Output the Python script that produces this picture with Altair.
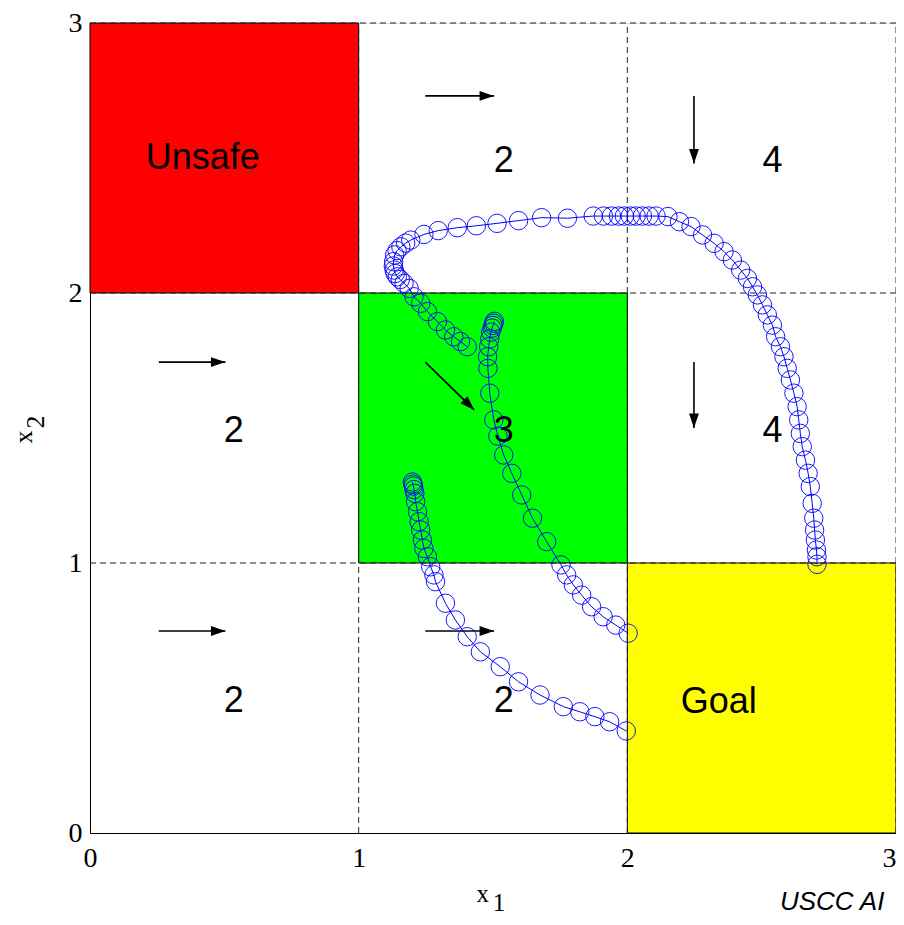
import altair as alt
import pandas as pd

# ---------------- data ----------------
# coloured regions of the state space
region_names = ["Unsafe", "Target", "Goal"]
region_x0 = [0, 1, 2]
region_x1 = [1, 2, 3]
region_y0 = [2, 1, 0]
region_y1 = [3, 2, 1]
region_colors = ["#ff0000", "#00ff00", "#ffff00"]

# cell labels
cell_text = ["Unsafe", "2", "4", "2", "3", "4", "2", "2", "Goal"]
cell_tx = [0.42, 1.54, 2.54, 0.535, 1.54, 2.54, 0.535, 1.54, 2.34]
cell_ty = [2.50, 2.49, 2.49, 1.49, 1.49, 1.49, 0.49, 0.49, 0.485]

# vector-field arrows (tail -> tip)
arrow_x = [1.248, 2.248, 0.256, 1.248, 2.248, 0.256, 1.248]
arrow_y = [2.730, 2.730, 1.744, 1.744, 1.744, 0.748, 0.748]
arrow_x2 = [1.504, 2.248, 0.504, 1.430, 2.248, 0.504, 1.504]
arrow_y2 = [2.730, 2.480, 1.744, 1.567, 1.500, 0.748, 0.748]
arrow_angle = [0, 90, 0, 45, 90, 0, 0]

# dashed partition lines
grid_v = [1, 2, 3]
grid_h = [1, 2, 3]

# trajectories
traj_a_x = [1.200, 1.202, 1.204, 1.206, 1.209, 1.212, 1.219, 1.225, 1.231, 1.237, 1.243,
            1.256, 1.268, 1.280, 1.286, 1.323, 1.360, 1.404, 1.453, 1.527, 1.595, 1.675,
            1.762, 1.823, 1.879, 1.934, 1.996]
traj_a_y = [1.300, 1.292, 1.285, 1.272, 1.258, 1.227, 1.190, 1.153, 1.122, 1.085, 1.054,
            1.023, 0.986, 0.956, 0.931, 0.851, 0.789, 0.727, 0.671, 0.616, 0.560, 0.511,
            0.468, 0.449, 0.431, 0.412, 0.378]

traj_b_x = [1.505, 1.503, 1.500, 1.497, 1.492, 1.488, 1.484, 1.480, 1.481, 1.488, 1.503,
            1.518, 1.540, 1.570, 1.607, 1.647, 1.700, 1.753, 1.774, 1.799, 1.830, 1.867,
            1.910, 1.957, 2.003]
traj_b_y = [1.895, 1.888, 1.880, 1.870, 1.855, 1.830, 1.801, 1.764, 1.721, 1.629, 1.530,
            1.470, 1.400, 1.332, 1.252, 1.166, 1.079, 0.993, 0.956, 0.919, 0.881, 0.838,
            0.801, 0.770, 0.740]

traj_c_x = [1.404, 1.379, 1.354, 1.323, 1.293, 1.256, 1.231, 1.206, 1.188, 1.169, 1.155,
            1.144, 1.136, 1.132, 1.129, 1.130, 1.134, 1.143, 1.157, 1.175, 1.194, 1.243,
            1.296, 1.367, 1.438, 1.515, 1.595, 1.681, 1.777, 1.873, 1.911, 1.941, 1.967,
            1.989, 2.011, 2.033, 2.056, 2.081, 2.107, 2.151, 2.194, 2.237, 2.280, 2.323,
            2.360, 2.391, 2.422, 2.447, 2.466, 2.484, 2.503, 2.521, 2.540, 2.552, 2.570,
            2.583, 2.595, 2.607, 2.620, 2.632, 2.638, 2.644, 2.651, 2.663, 2.673, 2.681,
            2.688, 2.694, 2.697, 2.700, 2.704, 2.706, 2.706]
traj_c_y = [1.801, 1.820, 1.838, 1.863, 1.894, 1.931, 1.962, 1.986, 2.017, 2.036, 2.050,
            2.060, 2.072, 2.085, 2.100, 2.116, 2.141, 2.157, 2.171, 2.185, 2.196, 2.217,
            2.231, 2.242, 2.249, 2.258, 2.268, 2.279, 2.277, 2.285, 2.285, 2.285, 2.285,
            2.285, 2.285, 2.285, 2.285, 2.285, 2.285, 2.283, 2.264, 2.246, 2.215, 2.184,
            2.153, 2.122, 2.085, 2.054, 2.023, 1.993, 1.956, 1.919, 1.881, 1.838, 1.801,
            1.764, 1.721, 1.678, 1.629, 1.579, 1.530, 1.480, 1.431, 1.381, 1.332, 1.283,
            1.221, 1.166, 1.122, 1.085, 1.048, 1.023, 0.995]

# axis tick values
tick_values = [0, 1, 2, 3]

# ---------------- tables ----------------
regions = pd.DataFrame({"name": region_names, "x0": region_x0, "x1": region_x1,
                        "y0": region_y0, "y1": region_y1, "color": region_colors})
cells = pd.DataFrame({"text": cell_text, "x": cell_tx, "y": cell_ty})
arrows = pd.DataFrame({"x": arrow_x, "y": arrow_y, "x2": arrow_x2, "y2": arrow_y2,
                       "angle": arrow_angle})
vlines = pd.DataFrame({"x": grid_v, "y": [0] * len(grid_v), "y2": [3] * len(grid_v)})
hlines = pd.DataFrame({"y": grid_h, "x": [0] * len(grid_h), "x2": [3] * len(grid_h)})

rows = []
for name, xs_, ys_ in (("A", traj_a_x, traj_a_y), ("B", traj_b_x, traj_b_y),
                       ("C", traj_c_x, traj_c_y)):
    for i, (xv, yv) in enumerate(zip(xs_, ys_)):
        rows.append({"traj": name, "order": i, "x": xv, "y": yv})
traj = pd.DataFrame(rows)

xs = alt.Scale(domain=[0, 3], nice=False, zero=False)
ys = alt.Scale(domain=[0, 3], nice=False, zero=False)

x_axis = alt.Axis(values=tick_values, format="d", title=None, grid=False, ticks=False,
                  labelFlush=False, labelPadding=11, labelFontSize=28,
                  labelAlign={"condition": {"test": "datum.value >= 3", "value": "right"},
                              "value": "center"},
                  labelFont="Liberation Serif", labelColor="black", domainColor="black",
                  labelOverlap=False, labelBound=False)
y_axis = alt.Axis(values=tick_values, format="d", title=None, grid=False, ticks=False,
                  labelFlush=False, labelPadding=8, labelFontSize=28,
                  labelFont="Liberation Serif", labelColor="black", domainColor="black",
                  labelOverlap=False, labelBound=False)

fills = alt.Chart(regions).mark_rect(stroke="black", strokeWidth=1).encode(
    x=alt.X("x0:Q", scale=xs, axis=x_axis),
    x2="x1:Q",
    y=alt.Y("y0:Q", scale=ys, axis=y_axis),
    y2="y1:Q",
    color=alt.Color("color:N", scale=None),
)

vgrid = alt.Chart(vlines).mark_rule(color="#222222", strokeWidth=1, strokeDash=[6, 4]).encode(
    x=alt.X("x:Q", scale=xs), y=alt.Y("y:Q", scale=ys), y2="y2:Q")
hgrid = alt.Chart(hlines).mark_rule(color="#222222", strokeWidth=1, strokeDash=[6, 4]).encode(
    y=alt.Y("y:Q", scale=ys), x=alt.X("x:Q", scale=xs), x2="x2:Q")

labels = alt.Chart(cells).mark_text(font="Liberation Sans", fontSize=36, color="black",
                                    align="center", baseline="middle").encode(
    x=alt.X("x:Q", scale=xs), y=alt.Y("y:Q", scale=ys), text="text:N")

shafts = alt.Chart(arrows).mark_rule(color="black", strokeWidth=1.6).encode(
    x=alt.X("x:Q", scale=xs), y=alt.Y("y:Q", scale=ys), x2="x2:Q", y2="y2:Q")
heads = alt.Chart(arrows).mark_point(shape="M0,0L-1,-0.34L-1,0.34Z", filled=True, size=840,
                                     color="black", opacity=1, strokeWidth=0).encode(
    x=alt.X("x2:Q", scale=xs), y=alt.Y("y2:Q", scale=ys), angle=alt.Angle("angle:Q", scale=None))

lines = alt.Chart(traj).mark_line(color="#0000ff", strokeWidth=1).encode(
    x=alt.X("x:Q", scale=xs), y=alt.Y("y:Q", scale=ys), detail="traj:N", order="order:Q")
circles = alt.Chart(traj).mark_point(shape="circle", filled=False, size=340, color="#0000ff",
                                     strokeWidth=1, opacity=0.9).encode(
    x=alt.X("x:Q", scale=xs), y=alt.Y("y:Q", scale=ys))

# axis titles with subscripts, and footer text
titles = pd.DataFrame({
    "text": ["x", "1"],
    "x": [1.462, 1.522],
    "y": [-0.255, -0.290],
})
xtitle = alt.Chart(titles).mark_text(font="Liberation Serif", fontSize=25, color="black",
                                     align="center", baseline="alphabetic").encode(
    x=alt.X("x:Q", scale=xs), y=alt.Y("y:Q", scale=ys), text="text:N")
ytitles = pd.DataFrame({"text": ["x", "2"], "x": [-0.245, -0.200], "y": [1.467, 1.522]})
ytitle = alt.Chart(ytitles).mark_text(font="Liberation Serif", fontSize=26, color="black",
                                      align="center", baseline="middle", angle=270).encode(
    x=alt.X("x:Q", scale=xs), y=alt.Y("y:Q", scale=ys), text="text:N")
footer = alt.Chart(pd.DataFrame({"text": ["USCC AI"], "x": [2.568], "y": [-0.285]})).mark_text(
    font="Liberation Sans", fontSize=26, fontStyle="italic", color="black",
    align="left", baseline="alphabetic").encode(
    x=alt.X("x:Q", scale=xs), y=alt.Y("y:Q", scale=ys), text="text:N")

chart = alt.layer(fills, vgrid, hgrid, labels, shafts, heads, lines, circles,
                  xtitle, ytitle, footer).properties(
    width=806, height=810,
    autosize=alt.AutoSizeParams(type="none"),
    padding={"left": 82, "top": 15, "right": 0, "bottom": 84},
).configure_view(stroke=None).configure(background="white")

chart.save("out.html", embed_options={"renderer": "svg", "actions": False})
